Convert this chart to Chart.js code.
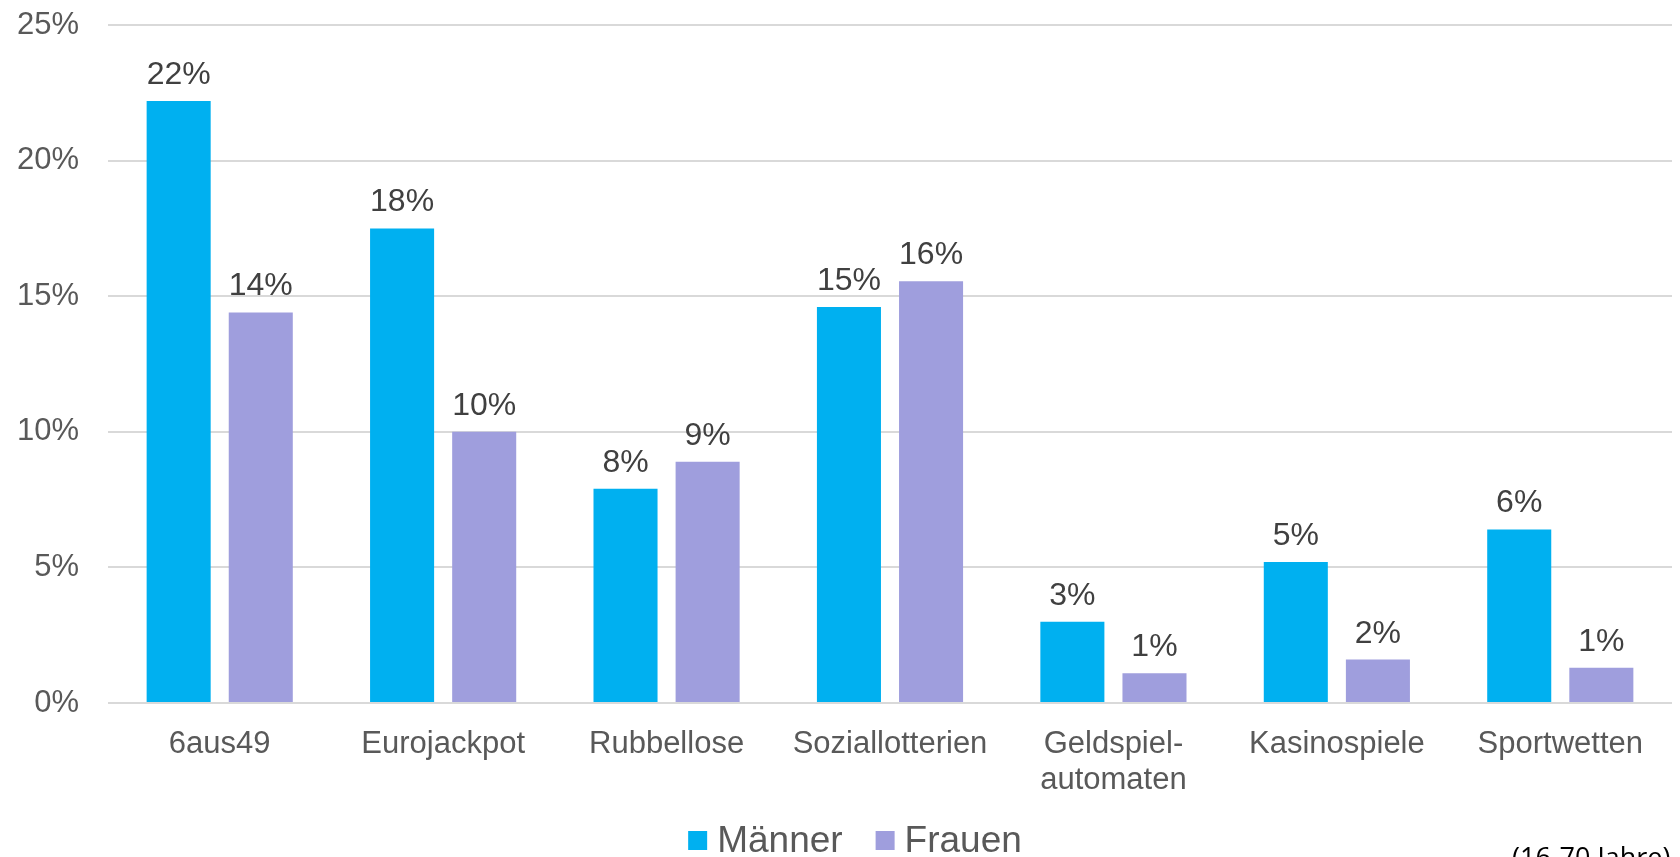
<!DOCTYPE html>
<html><head><meta charset="utf-8">
<script src="https://cdn.jsdelivr.net/npm/chart.js@4/dist/chart.umd.min.js"></script>
<style>
html,body{margin:0;padding:0;background:#fff;overflow:hidden;width:1680px;height:857px;}
#wrap{position:relative;width:1680px;height:857px;overflow:hidden;}
#c{display:block;}
#note{position:absolute;left:1512px;top:843px;font-family:"Open Sans",sans-serif;font-size:27px;line-height:27px;color:#000;white-space:nowrap;}
</style></head>
<body><div id="wrap"><canvas id="c" width="1680" height="857" style="width:1680px;height:857px"></canvas><div id="note">(16-70 Jahre)</div></div>
<script>
const categories = ['6aus49', 'Eurojackpot', 'Rubbellose', 'Soziallotterien', ['Geldspiel-', 'automaten'], 'Kasinospiele', 'Sportwetten'];
const seriesNames = ['Männer', 'Frauen'];
const maenner = [22.2, 17.5, 7.9, 14.6, 3.0, 5.2, 6.4];
const frauen = [14.4, 10.0, 8.9, 15.55, 1.1, 1.6, 1.3];
const yTicks = [0, 5, 10, 15, 20, 25];
const seriesColors = ['#00B0F0', '#9F9EDD'];

const FONT = '"Liberation Sans", Arial, sans-serif';

const valueLabels = {
  id: 'valueLabels',
  afterDatasetsDraw(chart) {
    const ctx = chart.ctx;
    ctx.save();
    ctx.font = '32px ' + FONT;
    ctx.fillStyle = '#404040';
    ctx.textAlign = 'center';
    ctx.textBaseline = 'alphabetic';
    chart.data.datasets.forEach((ds, i) => {
      chart.getDatasetMeta(i).data.forEach((bar, j) => {
        ctx.fillText(Math.round(ds.data[j]) + '%', bar.x, bar.y - 17);
      });
    });
    ctx.restore();
  }
};

const customLegend = {
  id: 'customLegend',
  afterDraw(chart) {
    const ctx = chart.ctx;
    ctx.save();
    ctx.font = '37px ' + FONT;
    const box = 19, gapText = 10, gapItem = 33;
    const items = chart.data.datasets.map(ds => ({ text: ds.label, color: ds.backgroundColor, w: ctx.measureText(ds.label).width }));
    let total = 0;
    items.forEach((it, i) => { total += box + gapText + it.w + (i < items.length - 1 ? gapItem : 0); });
    let x = chart.width / 2 + 15 - total / 2;
    const baseline = 852;
    items.forEach(it => {
      ctx.fillStyle = it.color;
      ctx.fillRect(x, 831, box, box);
      x += box + gapText;
      ctx.fillStyle = '#595959';
      ctx.textAlign = 'left';
      ctx.textBaseline = 'alphabetic';
      ctx.fillText(it.text, x, baseline);
      x += it.w + gapItem;
    });
    ctx.restore();
  }
};

new Chart(document.getElementById('c'), {
  type: 'bar',
  data: {
    labels: categories,
    datasets: [
      { label: seriesNames[0], data: maenner, backgroundColor: seriesColors[0], barPercentage: 0.78, categoryPercentage: 0.735 },
      { label: seriesNames[1], data: frauen, backgroundColor: seriesColors[1], barPercentage: 0.78, categoryPercentage: 0.735 }
    ]
  },
  options: {
    responsive: false,
    animation: false,
    events: [],
    layout: { padding: { top: 25, left: 15, right: 8, bottom: 62 } },
    plugins: { legend: { display: false }, tooltip: { enabled: false } },
    scales: {
      x: {
        grid: { display: false },
        border: { display: false },
        ticks: { color: '#595959', font: { family: FONT, size: 31, lineHeight: 1.17 }, padding: 15, maxRotation: 0, autoSkip: false },
        afterFit(s) { s.height = 92; s.paddingTop = 0; }
      },
      y: {
        min: 0, max: 25,
        afterBuildTicks(s) { s.ticks = yTicks.map(v => ({ value: v })); },
        ticks: { color: '#595959', font: { family: FONT, size: 31 }, padding: 29, callback: v => v + '%' },
        grid: { color: '#d9d9d9', lineWidth: 2, drawTicks: false },
        border: { display: false },
        afterFit(s) { s.width = 93; s.paddingTop = 0; s.paddingBottom = 0; }
      }
    }
  },
  plugins: [valueLabels, customLegend]
});
</script>
</body></html>
